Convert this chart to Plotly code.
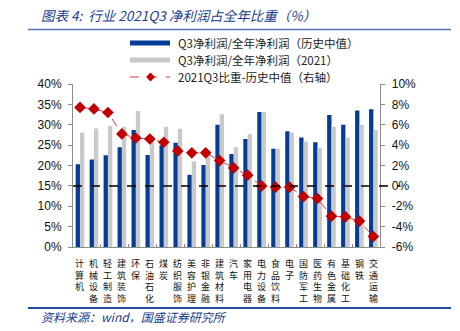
import plotly.graph_objects as go
from plotly.subplots import make_subplots

# Industries (SW level-1)
industries = ["计算机", "机械设备", "轻工制造", "建筑装饰", "环保", "石油石化", "煤炭",
              "纺织服饰", "美容护理", "非银金融", "建筑材料", "汽车", "家用电器", "电力设备",
              "食品饮料", "电子", "国防军工", "医药生物", "有色金属", "基础化工", "钢铁", "交通运输"]

# Q3 net profit / full-year net profit, historical median (%)
q3_share_hist = [20.3, 21.5, 22.5, 24.5, 28.7, 22.6, 25.0, 25.6, 17.7, 20.1, 30.0,
                 22.8, 26.5, 33.1, 24.1, 28.4, 26.9, 25.7, 32.4, 30.0, 33.5, 33.8]

# Q3 net profit / full-year net profit, 2021 (%)
q3_share_2021 = [28.1, 29.1, 29.7, 29.5, 33.4, 27.2, 29.5, 29.0, 21.0, 22.8, 32.6,
                 24.5, 27.7, 33.1, 24.1, 28.1, 25.9, 24.3, 29.5, 26.9, 30.0, 28.7]

# 2021Q3 share minus historical median (pp, right axis)
share_diff = [7.7, 7.55, 7.2, 5.1, 4.7, 4.6, 4.28, 3.43, 3.24, 3.24, 2.48,
              1.76, 1.05, 0.0, -0.13, -0.13, -1.05, -1.24, -2.97, -3.04, -3.46, -4.97]

left_ticks = [0, 5, 10, 15, 20, 25, 30, 35, 40]
left_ticktext = ["0%", "5%", "10%", "15%", "20%", "25%", "30%", "35%", "40%"]
right_ticks = [-6, -4, -2, 0, 2, 4, 6, 8, 10]
right_ticktext = ["-6%", "-4%", "-2%", "0%", "2%", "4%", "6%", "8%", "10%"]

series_names = ["Q3净利润/全年净利润（历史中值）", "Q3净利润/全年净利润（2021）",
                "2021Q3比重-历史中值（右轴）"]
title_text = "图表 4:  行业 2021Q3 净利润占全年比重（%）"
source_text = "资料来源：wind，国盛证券研究所"

BLUE = "#043C96"
GRAY = "#C9C9C9"
RED_LINE = "#E23A3A"
RED_MARK = "#C00000"
NAVY_TEXT = "#20408F"
CJK = "Noto Sans CJK SC"
LATIN = "Liberation Sans, Arial, sans-serif"

W, H = 460, 331
L, R, T, B = 73, 60, 84, 84
PW, PH = W - L - R, H - T - B


def px_x(px):
    return (px - L) / PW


def px_y(py):
    return (H - B - py) / PH


fig = make_subplots(specs=[[{"secondary_y": True}]])

fig.add_trace(go.Bar(x=industries, y=q3_share_hist, name=series_names[0],
                     marker=dict(color=BLUE, line=dict(width=0)), showlegend=False),
              secondary_y=False)
fig.add_trace(go.Bar(x=industries, y=q3_share_2021, name=series_names[1],
                     marker=dict(color=GRAY, line=dict(width=0)), showlegend=False),
              secondary_y=False)
fig.add_trace(go.Scatter(x=industries, y=share_diff, name=series_names[2], mode="lines+markers",
                         line=dict(color=RED_LINE, width=1, dash="dash"),
                         marker=dict(symbol="diamond", size=9, color=RED_MARK),
                         showlegend=False),
              secondary_y=True)

# reference line at 15% (left) / 0% (right)
fig.add_shape(type="line", xref="paper", yref="y", x0=0, x1=1, y0=15, y1=15,
              line=dict(color="black", width=1.5, dash="dash"), layer="above")

shapes = []
annotations = []

# header and footer rules
shapes.append(dict(type="line", xref="paper", yref="paper", x0=px_x(28), x1=px_x(451),
                   y0=px_y(29.5), y1=px_y(29.5), line=dict(color="#4F73B3", width=1.5)))
shapes.append(dict(type="line", xref="paper", yref="paper", x0=px_x(28), x1=px_x(451),
                   y0=px_y(308), y1=px_y(308), line=dict(color="#1F4E9B", width=2)))

annotations.append(dict(text=title_text, xref="paper", yref="paper", x=px_x(39), y=px_y(15),
                        xanchor="left", yanchor="middle", showarrow=False,
                        font=dict(family=CJK, size=13.5, color=NAVY_TEXT, style="italic")))
annotations.append(dict(text=source_text, xref="paper", yref="paper", x=px_x(39), y=px_y(316),
                        xanchor="left", yanchor="middle", showarrow=False,
                        font=dict(family=CJK, size=12, color=NAVY_TEXT, style="italic")))

# legend
leg_rows = [43, 60, 77]
shapes.append(dict(type="rect", xref="paper", yref="paper", x0=px_x(130), x1=px_x(170),
                   y0=px_y(45.5), y1=px_y(40.5), fillcolor=BLUE, line=dict(width=0)))
shapes.append(dict(type="rect", xref="paper", yref="paper", x0=px_x(130), x1=px_x(170),
                   y0=px_y(62.5), y1=px_y(57.5), fillcolor=GRAY, line=dict(width=0)))
shapes.append(dict(type="line", xref="paper", yref="paper", x0=px_x(130), x1=px_x(170),
                   y0=px_y(77), y1=px_y(77), line=dict(color=RED_LINE, width=1, dash="dash")))
shapes.append(dict(type="path", xref="paper", yref="paper",
                   path="M {a},{m} L {c},{t} L {b},{m} L {c},{d} Z".format(
                       a=px_x(146), b=px_x(155), c=px_x(150.5),
                       m=px_y(77), t=px_y(72.5), d=px_y(81.5)),
                   fillcolor=RED_MARK, line=dict(width=0)))
for name, ry in zip(series_names, leg_rows):
    annotations.append(dict(text=name, xref="paper", yref="paper", x=px_x(176), y=px_y(ry),
                            xanchor="left", yanchor="middle", showarrow=False,
                            font=dict(family=CJK, size=11.5, color="#222222")))

# vertical category labels, characters stacked
for name in industries:
    annotations.append(dict(text="<br>".join(name), x=name, xref="x", yref="paper", y=0,
                            yshift=-8, xanchor="center", yanchor="top", showarrow=False,
                            font=dict(family=CJK, size=9, color="#111111")))

fig.update_layout(
    width=W, height=H,
    margin=dict(l=L, r=R, t=T, b=B),
    paper_bgcolor="white", plot_bgcolor="white",
    barmode="group", bargap=0.38, bargroupgap=0,
    showlegend=False,
    shapes=list(fig.layout.shapes) + shapes,
    annotations=annotations,
)

fig.update_xaxes(type="category", range=[-0.5, len(industries) - 0.5],
                 showticklabels=False, showgrid=False, zeroline=False,
                 showline=True, linecolor="#8C8C8C", linewidth=1,
                 ticks="inside", ticklen=3, tickcolor="#8C8C8C", tickson="boundaries")
fig.update_yaxes(range=[0, 40], tickvals=left_ticks, ticktext=left_ticktext,
                 showgrid=False, zeroline=False, showline=True, linecolor="#8C8C8C",
                 linewidth=1, ticks="outside", ticklen=4, tickcolor="#8C8C8C",
                 ticklabelstandoff=4,
                 tickfont=dict(family=LATIN, size=12, color="#111111"), secondary_y=False)
fig.update_yaxes(range=[-6, 10], tickvals=right_ticks, ticktext=right_ticktext,
                 showgrid=False, zeroline=False, showline=True, linecolor="#8C8C8C",
                 linewidth=1, ticks="outside", ticklen=4, tickcolor="#8C8C8C",
                 ticklabelstandoff=4,
                 tickfont=dict(family=LATIN, size=12, color="#111111"), secondary_y=True)

fig.write_html("out.html")
